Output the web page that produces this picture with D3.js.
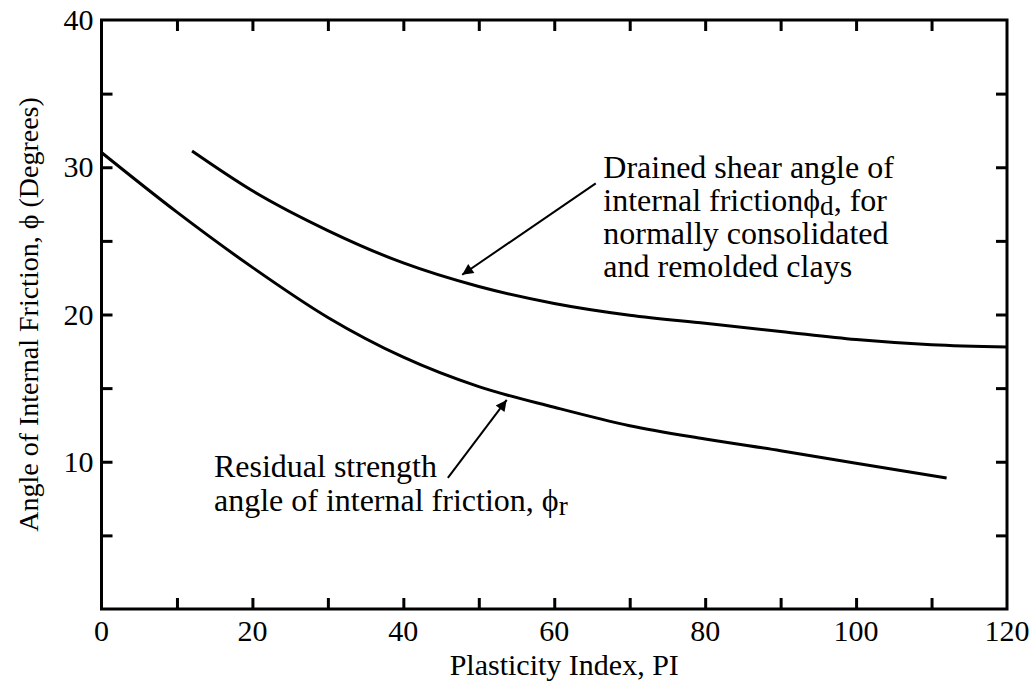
<!DOCTYPE html>
<html>
<head>
<meta charset="utf-8">
<script src="https://cdn.jsdelivr.net/npm/d3@7"></script>
<style>
  html, body { margin: 0; padding: 0; background: #fff; }
  svg { display: block; }
  text { font-family: "Liberation Serif", "Times New Roman", serif; fill: #000; }
</style>
</head>
<body>
<svg id="chart" width="1034" height="691"></svg>
<script>
// Plasticity index (PI) vs. angle of internal friction (degrees)
const drainedPI    = [12, 20, 30, 40, 50, 60, 70, 80, 90, 100, 110, 120];
const drainedPhi   = [31.1, 28.4, 25.7, 23.5, 21.9, 20.75, 19.95, 19.4, 18.85, 18.3, 17.95, 17.8];
const residualPI   = [0, 10, 20, 30, 40, 50, 60, 70, 80, 90, 100, 112];
const residualPhi  = [31.0, 26.95, 23.2, 19.8, 17.1, 15.1, 13.7, 12.45, 11.55, 10.75, 9.9, 8.9];

const xTickLabels = [0, 20, 40, 60, 80, 100, 120];
const yTickLabels = [10, 20, 30, 40];
const xMinorTicks = [10, 20, 30, 40, 50, 60, 70, 80, 90, 100, 110];
const yMinorTicks = [5, 10, 15, 20, 25, 30, 35];

const svg = d3.select("#chart");
const W = 1034, H = 691;
const margin = { left: 101.5, top: 20, right: 27, bottom: 82 };

const x = d3.scaleLinear().domain([0, 120]).range([margin.left, W - margin.right]);
const y = d3.scaleLinear().domain([0, 40]).range([H - margin.bottom, margin.top]);

const tickLen = 11;
const axisW = 3;

// Tick marks on all four sides, pointing into the plot
const g = svg.append("g");
const bottomAxis = d3.axisBottom(x).tickValues(xMinorTicks).tickSizeInner(-tickLen).tickSizeOuter(0).tickFormat("");
const topAxis = d3.axisTop(x).tickValues(xMinorTicks).tickSizeInner(-tickLen).tickSizeOuter(0).tickFormat("");
const leftAxis = d3.axisLeft(y).tickValues(yMinorTicks).tickSizeInner(-tickLen).tickSizeOuter(0).tickFormat("");
const rightAxis = d3.axisRight(y).tickValues(yMinorTicks).tickSizeInner(-tickLen).tickSizeOuter(0).tickFormat("");

g.append("g").attr("transform", `translate(0,${y(0)})`).call(bottomAxis);
g.append("g").attr("transform", `translate(0,${y(40)})`).call(topAxis);
g.append("g").attr("transform", `translate(${x(0)},0)`).call(leftAxis);
g.append("g").attr("transform", `translate(${x(120)},0)`).call(rightAxis);
g.selectAll(".domain").remove();
g.selectAll(".tick line").attr("stroke", "#000").attr("stroke-width", axisW);

// Frame
svg.append("rect")
  .attr("x", x(0)).attr("y", y(40))
  .attr("width", x(120) - x(0)).attr("height", y(0) - y(40))
  .attr("fill", "none").attr("stroke", "#000").attr("stroke-width", axisW);

// Tick labels
svg.append("g").selectAll("text").data(xTickLabels).join("text")
  .attr("x", d => x(d)).attr("y", y(0) + 32)
  .attr("text-anchor", "middle").attr("font-size", 30)
  .text(d => d);

svg.append("g").selectAll("text").data(yTickLabels).join("text")
  .attr("x", x(0) - 8).attr("y", d => y(d) + 10)
  .attr("text-anchor", "end").attr("font-size", 30)
  .text(d => d);

// Axis titles
svg.append("text")
  .attr("x", (x(0) + x(120)) / 2 + 10).attr("y", 675)
  .attr("text-anchor", "middle").attr("font-size", 30)
  .text("Plasticity Index, PI");

svg.append("text")
  .attr("transform", `translate(38,${(y(0) + y(40)) / 2}) rotate(-90)`)
  .attr("text-anchor", "middle").attr("font-size", 28)
  .text("Angle of Internal Friction, \u03D5 (Degrees)");

// Curves
const line = d3.line().x(d => x(d[0])).y(d => y(d[1])).curve(d3.curveMonotoneX);
svg.append("path")
  .datum(d3.zip(drainedPI, drainedPhi))
  .attr("d", line).attr("fill", "none").attr("stroke", "#000").attr("stroke-width", 3);
svg.append("path")
  .datum(d3.zip(residualPI, residualPhi))
  .attr("d", line).attr("fill", "none").attr("stroke", "#000").attr("stroke-width", 3);

// Arrow marker
svg.append("defs").append("marker")
  .attr("id", "head").attr("viewBox", "0 0 10 10")
  .attr("refX", 10).attr("refY", 5)
  .attr("markerWidth", 8).attr("markerHeight", 5.5)
  .attr("markerUnits", "strokeWidth").attr("orient", "auto")
  .append("path").attr("d", "M0,0 L10,5 L0,10 Z").attr("fill", "#000");

function arrow(from, to) {
  svg.append("line")
    .attr("x1", x(from[0])).attr("y1", y(from[1]))
    .attr("x2", x(to[0])).attr("y2", y(to[1]))
    .attr("stroke", "#000").attr("stroke-width", 2)
    .attr("marker-end", "url(#head)");
}
arrow([65.5, 28.9], [47.8, 22.7]);
arrow([45.9, 8.9], [53.7, 14.2]);

// Annotation text
function textBlock(px, py, lines, size, lh) {
  const t = svg.append("text")
    .attr("x", x(px)).attr("y", y(py)).attr("font-size", size);
  lines.forEach((parts, i) => {
    parts.forEach((p, j) => {
      const span = t.append("tspan");
      if (j === 0) span.attr("x", x(px)).attr("dy", i === 0 ? 0 : lh);
      if (p.sub) span.attr("baseline-shift", "-15%").attr("font-size", size * 0.85);
      span.text(p.t);
    });
  });
}

textBlock(66.5, 29.27, [
  [{ t: "Drained shear angle of" }],
  [{ t: "internal friction\u03D5" }, { t: "d", sub: true }, { t: ", for" }],
  [{ t: "normally consolidated" }],
  [{ t: "and remolded clays" }]
], 32, 33);

textBlock(14.9, 8.96, [
  [{ t: "Residual strength" }],
  [{ t: "angle of internal friction, \u03D5" }, { t: "r", sub: true }]
], 32, 34);
</script>
</body>
</html>
